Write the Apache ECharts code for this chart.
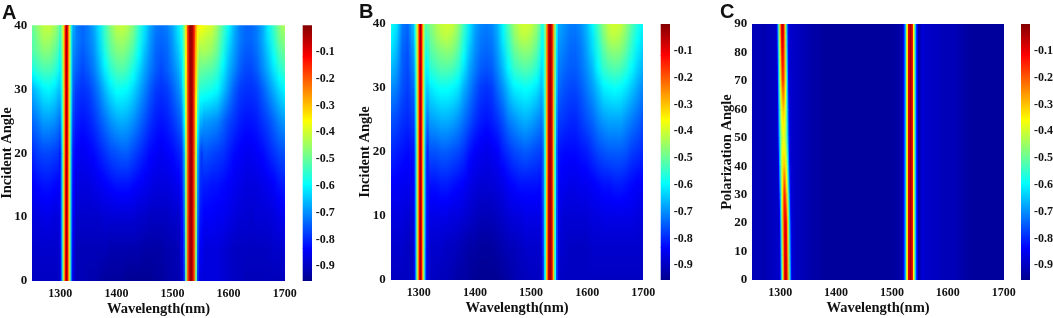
<!DOCTYPE html>
<html><head><meta charset="utf-8">
<style>html,body{margin:0;padding:0;background:#fff}#c{width:1053px;height:318px}</style>
<script src="https://cdn.jsdelivr.net/npm/echarts@6/dist/echarts.min.js"></script>
</head><body><div id="c"></div>
<script>
// Values are reflectance-like levels in hundredths, negative (72 means -0.72).
const wavelengths=[1250,1260,1270,1280,1290,1300,1310,1320,1330,1340,1350,1360,1370,1380,1390,1400,1410,1420,1430,1440,1450,1460,1470,1480,1490,1500,1510,1520,1530,1540,1550,1560,1570,1580,1590,1600,1610,1620,1630,1640,1650,1660,1670,1680,1690,1700];
const xTicks=[1300,1400,1500,1600,1700];
const incidentAngles=[0,5,10,15,20,25,30,33,36,38,40];
const incidentTicks=[0,10,20,30,40];
const polarTicks=[0,10,20,30,40,50,60,70,80,90];
const barTicks=[-0.9,-0.8,-0.7,-0.6,-0.5,-0.4,-0.3,-0.2,-0.1];
const barLevels=[-0.955,-0.835,-0.597,-0.358,-0.119,0];

const a00=[90,90,90,90,90,90,90,90,91,91,92,92,93,94,94,94,94,95,95,95,95,95,94,94,93,92,92,91,90,89,88,87,87,87,88,89,90,90,91,91,91,91,91,91,91,90];
const a05=[89,89,89,89,89,89,90,90,91,91,91,91,91,91,92,92,92,92,92,92,93,93,93,93,92,92,91,90,89,88,87,87,87,87,88,89,90,90,90,90,90,90,90,89,89,88];
const a10=[87,87,86,86,87,87,88,88,89,89,89,89,89,88,88,88,88,88,88,89,89,90,90,90,90,89,89,88,87,85,84,84,84,85,85,86,87,88,88,89,88,88,88,87,86,85];
const a15=[84,83,82,82,83,84,85,86,87,87,87,86,85,84,83,82,82,82,83,84,85,86,87,87,87,86,85,84,83,81,81,81,82,82,83,84,85,86,87,87,87,86,85,84,82,81];
const a20=[80,78,77,77,78,79,81,83,84,85,84,83,81,79,77,76,75,75,77,79,81,83,84,85,84,83,81,79,77,76,76,76,77,78,79,81,83,84,85,85,84,83,81,79,77,76];
const a25=[74,72,69,69,70,73,76,79,81,82,81,79,76,73,70,68,67,68,70,73,76,79,81,82,81,79,76,73,71,69,69,69,70,71,74,77,79,81,82,82,81,79,77,74,71,69];
const a30=[67,64,61,60,62,66,70,75,78,79,78,75,71,66,62,59,59,60,63,67,71,75,78,79,78,75,71,67,62,57,56,57,58,60,65,70,75,78,79,79,78,75,71,67,63,60];
const a33=[58,55,53,53,55,60,65,71,75,77,75,72,67,61,56,53,52,54,58,63,68,72,75,77,75,72,68,62,55,50,50,51,52,55,61,67,71,75,77,77,75,71,67,62,57,54];
const a36=[52,50,47,47,50,55,61,68,73,75,73,70,64,57,51,48,47,49,53,59,65,70,74,75,74,70,65,58,50,44,43,44,46,50,57,64,69,73,75,75,73,69,64,58,52,49];
const a38=[52,48,44,44,47,52,59,67,72,74,72,69,63,55,49,45,44,46,50,57,63,69,73,74,73,69,63,56,48,41,40,42,43,48,55,62,68,72,74,74,72,68,62,56,49,46];
const a40=[50,46,42,41,44,50,58,66,72,74,72,68,62,54,47,42,41,43,48,55,62,68,72,73,72,68,62,55,45,38,36,38,40,46,53,60,67,72,74,74,72,68,61,54,47,43];

const b00=[90,90,90,90,90,90,90,90,90,91,91,92,93,93,94,95,95,95,95,95,94,93,92,91,91,90,90,90,90,90,90,90,90,90,90,90,90,90,90,90,90,90,90,90,90,90];
const b05=[89,89,89,90,90,89,89,89,89,89,90,90,91,92,93,93,94,94,94,93,92,91,91,90,89,89,89,89,89,89,89,89,90,90,90,90,89,89,89,89,89,89,89,89,89,89];
const b10=[87,87,87,88,88,87,86,86,86,86,86,87,87,88,89,90,91,91,91,90,89,88,87,87,86,86,86,86,87,87,87,88,88,88,88,88,87,87,86,86,86,86,86,86,87,87];
const b15=[84,84,85,85,85,84,83,82,82,81,81,82,83,84,86,87,88,88,88,87,86,84,83,82,82,82,82,83,84,84,85,85,86,86,85,85,84,83,82,82,81,81,82,83,84,84];
const b20=[80,81,82,83,82,80,78,76,76,75,75,76,77,79,82,84,85,86,85,84,81,79,77,76,75,76,77,78,80,81,82,83,83,83,82,81,79,77,76,75,75,75,76,78,79,80];
const b25=[76,77,79,80,78,75,72,69,68,67,67,68,70,73,76,79,81,82,81,79,76,72,70,68,67,68,70,72,75,76,78,79,80,80,78,76,74,71,69,68,68,68,70,72,74,76];
const b30=[70,72,76,78,74,69,65,62,60,59,59,60,62,67,71,75,78,79,78,74,70,65,61,60,59,60,62,66,70,72,74,76,77,77,75,72,69,65,61,60,59,60,62,65,68,71];
const b33=[66,69,75,77,71,66,60,56,54,52,52,53,56,62,68,72,75,76,75,71,66,60,55,53,52,53,56,62,66,70,72,74,75,75,73,70,66,60,55,53,52,53,56,60,64,67];
const b36=[62,66,74,76,69,63,56,52,49,47,46,47,51,58,65,70,73,74,73,69,63,56,50,47,46,47,51,58,63,67,70,72,74,74,72,68,63,57,51,47,46,47,51,56,61,64];
const b38=[60,64,73,75,67,61,54,50,46,43,42,44,48,56,63,69,72,73,72,68,61,54,47,43,42,44,48,56,62,66,69,71,73,73,71,67,62,55,48,43,42,44,48,54,59,62];
const b40=[58,62,72,74,66,60,52,48,44,41,40,41,46,54,62,68,71,72,71,67,60,52,45,41,40,41,46,54,60,65,68,70,72,72,70,66,60,53,46,41,40,41,46,52,57,60];

const c00=[91,91,92,91,90,89,89,89,90,91,92,93,93,94,94,94,94,94,94,94,94,94,94,94,94,94,93,92,90,88,88,89,90,90,91,91,91,92,93,94,94,94,94,94,94,94];
const polarBackAngles=[0,90];

// Narrow resonance bands: offsets from the band centre (nm), then one profile per listed angle.
const narrowOffsets=[-12,-10,-8,-6,-4,-2,0,2,4,6,8,10,12];
const wideOffsets=[-18,-15,-12,-9,-6,-3,0,3,6,9,12,15,18];
const midOffsets=[-15,-12,-9,-6,-3,0,3,6,9,12,15];

const a1Angles=[0,20,30,40], a1Centers=[1311,1311,1311,1311];
const a1p0=[88,82,66,46,28,12,2,12,28,46,66,82,88];
const a1p20=[82,76,64,45,28,12,3,12,28,45,64,76,82];
const a1p30=[65,62,56,44,28,12,3,12,28,44,58,68,75];
const a1p40=[53,50,46,38,26,12,2,12,26,40,56,64,68];
const a2Angles=[0,20,30,40], a2Centers=[1533,1533,1533,1533];
const a2p0=[90,88,78,50,22,7,2,7,22,50,78,86,87];
const a2p20=[80,76,66,44,22,7,2,7,22,42,66,74,78];
const a2p30=[68,62,53,38,20,6,2,6,20,34,48,56,56];
const a2p40=[58,54,46,33,18,5,2,5,16,28,34,36,36];

const b1Angles=[0,20,30,40], b1Centers=[1303,1303,1303,1303];
const b1p0=[88,82,66,46,28,12,3,12,28,46,66,82,88];
const b1p20=[82,76,64,45,28,12,3,12,28,45,64,76,80];
const b1p30=[74,68,58,44,27,12,3,12,27,44,58,64,64];
const b1p40=[66,58,50,40,26,12,3,12,26,40,50,52,50];
const b2Angles=[0,20,30,40], b2Centers=[1534,1534,1534,1534];
const b2p0=[88,78,58,30,8,3,8,30,58,78,88];
const b2p20=[78,72,56,30,8,3,8,30,56,74,82];
const b2p30=[66,62,52,28,8,3,8,28,52,66,74];
const b2p40=[56,56,48,26,8,3,8,26,48,60,68];

const c1Angles=[0,20,30,40,50,60,70,90], c1Centers=[1310,1309,1308,1307,1306,1305.5,1305,1304];
const c1p0=[90,84,66,46,26,10,5,10,26,46,66,82,88];
const c1p20=[90,84,66,47,28,13,8,13,28,47,66,82,88];
const c1p30=[90,84,67,49,33,22,15,22,33,49,67,82,88];
const c1p40=[90,84,68,52,40,33,30,33,40,52,68,82,88];
const c1p50=[90,84,69,54,44,40,38,40,44,54,69,82,88];
const c1p60=[90,84,68,52,40,33,30,33,40,52,68,82,88];
const c1p70=[90,84,67,49,33,22,15,22,33,49,67,82,88];
const c1p90=[90,84,66,46,26,10,4,10,26,46,66,82,88];
const c2Angles=[0,90], c2Centers=[1533,1533];
const c2p0=[92,84,66,36,10,3,10,36,66,84,92];

// ---- colour
const vMin=-0.955, vMax=0;
const jet=['#00008f','#0000ff','#00ffff','#ffff00','#ff0000','#800000'];
const jetPos=[0,0.125,0.375,0.625,0.875,1];
function jetColor(v){
  const t=Math.max(0,Math.min(1,(v-vMin)/(vMax-vMin)));
  let i=0; while(i<jet.length-2&&t>jetPos[i+1])i++;
  return echarts.color.lerp((t-jetPos[i])/(jetPos[i+1]-jetPos[i]),[jet[i],jet[i+1]]);
}
function fillFor(v0,v1){
  if(v0===v1)return jetColor(v0);
  const stops=[];
  for(let k=0;k<=6;k++){const f=k/6;stops.push({offset:f,color:jetColor(v1+(v0-v1)*f)});}
  return new echarts.graphic.LinearGradient(0,0,0,1,stops);
}
// Band and colour-bar cell: [x0 low, x1 low, x0 high, x1 high, y low, y high, v low, v high]
function renderCell(params,api){
  const g=[0,1,2,3,4,5,6,7].map(i=>api.value(i));
  const pts=[api.coord([g[0],g[4]]),api.coord([g[1],g[4]]),api.coord([g[3],g[5]]),api.coord([g[2],g[5]])];
  pts[1][0]+=1;pts[2][0]+=1;pts[2][1]-=1;pts[3][1]-=1;
  return {type:'polygon',shape:{points:pts},style:{fill:fillFor(g[6],g[7]),stroke:null}};
}
// Background: one item per pair of read rows, shaded smoothly between the read values.
function backRenderer(rows){
  return function(params,api){
    const r=api.value(0),low=api.value(1),high=api.value(2);
    const xl=Math.round(api.coord([1250,low])[0]),xr=Math.round(api.coord([1700,low])[0]);
    const yb=api.coord([1250,low])[1],yt=api.coord([1250,high])[1];
    const n=Math.max(1,Math.round((yb-yt)/2)),children=[];
    for(let s=0;s<n;s++){
      const f=(s+0.5)/n,stops=wavelengths.map((w,c)=>({
        offset:(w-1250)/450,
        color:jetColor(-(rows[r][c]+(rows[r+1][c]-rows[r][c])*f)/100)}));
      const y0=yb-(yb-yt)*(s+1)/n;
      children.push({type:'rect',shape:{x:xl,y:y0-1,width:xr-xl,height:(yb-yt)/n+1},
        style:{fill:new echarts.graphic.LinearGradient(0,0,1,0,stops),stroke:null}});
    }
    return {type:'group',children};
  };
}
function backSeries(i,angles,rows){
  const data=angles.slice(0,-1).map((a,r)=>[r,a,angles[r+1],1250,1700]);
  return {type:'custom',xAxisIndex:i,yAxisIndex:i,data,renderItem:backRenderer(rows),clip:true,z:2,silent:true,
    progressive:0,animation:false,encode:{x:[3,4],y:[1,2]},dimensions:['r','lo','hi','xa','xb']};
}
function bandCells(angles,centers,offsets,rows){
  const out=[],h=(offsets[1]-offsets[0])/2;
  for(let r=0;r<angles.length-1;r++)for(let c=0;c<offsets.length;c++){
    out.push([centers[r]+offsets[c]-h,centers[r]+offsets[c]+h,centers[r+1]+offsets[c]-h,centers[r+1]+offsets[c]+h,
      angles[r],angles[r+1],-rows[r][c]/100,-rows[r+1][c]/100]);
  }
  return out;
}
function barCells(){
  const out=[];
  for(let i=0;i<barLevels.length-1;i++)out.push([0,1,0,1,barLevels[i],barLevels[i+1],barLevels[i],barLevels[i+1]]);
  return out;
}

const panels=[
 {letter:'A',lx:2,ly:3,left:32.3,top:25.3,w:252.4,h:255.7,bar:302.7,yName:'Incident Angle',yMax:40,yTicks:incidentTicks,
  angles:incidentAngles,rows:[a00,a05,a10,a15,a20,a25,a30,a33,a36,a38,a40],
  bands:[bandCells(a1Angles,a1Centers,narrowOffsets,[a1p0,a1p20,a1p30,a1p40]),bandCells(a2Angles,a2Centers,wideOffsets,[a2p0,a2p20,a2p30,a2p40])]},
 {letter:'B',lx:359,ly:2,left:390.7,top:24,w:252.6,h:256,bar:660.7,yName:'Incident Angle',yMax:40,yTicks:incidentTicks,
  angles:incidentAngles,rows:[b00,b05,b10,b15,b20,b25,b30,b33,b36,b38,b40],
  bands:[bandCells(b1Angles,b1Centers,narrowOffsets,[b1p0,b1p20,b1p30,b1p40]),bandCells(b2Angles,b2Centers,midOffsets,[b2p0,b2p20,b2p30,b2p40])]},
 {letter:'C',lx:720,ly:2,left:752.3,top:24,w:251.4,h:256,bar:1021,yName:'Polarization Angle',yMax:90,yTicks:polarTicks,
  angles:polarBackAngles,rows:[c00,c00],
  bands:[bandCells(c1Angles,c1Centers,narrowOffsets,[c1p0,c1p20,c1p30,c1p40,c1p50,c1p60,c1p70,c1p90]),bandCells(c2Angles,c2Centers,midOffsets,[c2p0,c2p0])]}
];

const serif='"Liberation Serif","Times New Roman",serif';
const tickFont={fontFamily:serif,fontWeight:'bold',fontSize:12,color:'#111'};
const yTickFont={fontFamily:serif,fontWeight:'bold',fontSize:13,color:'#111'};
const nameFont={fontFamily:serif,fontWeight:'bold',fontSize:14.5,color:'#111'};
const grid=[],xAxis=[],yAxis=[],series=[],graphic=[];
function customSeries(i,data,z){
  return {type:'custom',xAxisIndex:i,yAxisIndex:i,data,renderItem:renderCell,clip:true,z,silent:true,
    progressive:0,animation:false,encode:{x:[0,1],y:[4,5]},dimensions:['a','b','c','d','e','f','g','h']};
}
panels.forEach(p=>{
  const i=grid.length;
  grid.push({left:p.left,top:p.top,width:p.w,height:p.h,containLabel:false,outerBoundsMode:'none'});
  xAxis.push({type:'value',gridIndex:i,min:1250,max:1700,splitLine:{show:false},axisLine:{show:false},axisTick:{show:false},
    axisLabel:Object.assign({customValues:xTicks,margin:7,formatter:v=>String(v)},tickFont),
    name:'Wavelength(nm)',nameLocation:'middle',nameMoveOverlap:false,nameGap:21,nameTextStyle:nameFont});
  yAxis.push({type:'value',gridIndex:i,min:0,max:p.yMax,splitLine:{show:false},axisLine:{show:false},axisTick:{show:false},
    axisLabel:Object.assign({customValues:p.yTicks,margin:5},yTickFont),
    name:p.yName,nameLocation:'middle',nameRotate:90,nameMoveOverlap:false,nameGap:18,nameTextStyle:nameFont});
  series.push(backSeries(i,p.angles,p.rows));
  p.bands.forEach(b=>series.push(customSeries(i,b,3)));
  graphic.push({type:'text',left:p.lx,top:p.ly,style:{text:p.letter,fontFamily:'"Liberation Sans",Arial,sans-serif',fontWeight:'bold',fontSize:20,fill:'#111'}});
});
panels.forEach(p=>{
  const i=grid.length;
  grid.push({left:p.bar,top:p.top,width:9,height:p.h,outerBoundsMode:'none'});
  xAxis.push({type:'value',gridIndex:i,min:0,max:1,show:false});
  yAxis.push({type:'value',gridIndex:i,position:'right',min:vMin,max:vMax,splitLine:{show:false},axisLine:{show:false},axisTick:{show:false},
    axisLabel:Object.assign({customValues:barTicks,margin:4,formatter:v=>v.toFixed(1)},tickFont)});
  series.push(customSeries(i,barCells(),2));
});
const chart=echarts.init(document.getElementById('c'),null,{renderer:'canvas'});
chart.setOption({animation:false,backgroundColor:'#fff',grid,xAxis,yAxis,series,graphic});
</script></body></html>
